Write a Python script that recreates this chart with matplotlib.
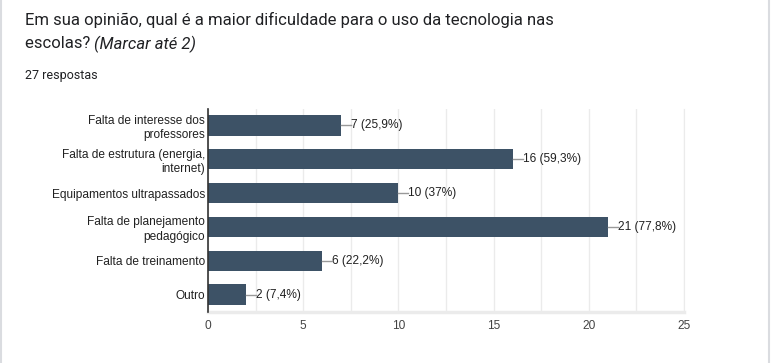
import numpy as np
import matplotlib
matplotlib.use("Agg")
import matplotlib.pyplot as plt
from matplotlib.lines import Line2D

# --- Data ---
categories = [
    "Falta de interesse dos\nprofessores",
    "Falta de estrutura (energia,\ninternet)",
    "Equipamentos ultrapassados",
    "Falta de planejamento\npedagógico",
    "Falta de treinamento",
    "Outro",
]
counts = [7, 16, 10, 21, 6, 2]
percent_labels = ["25,9%", "59,3%", "37%", "77,8%", "22,2%", "7,4%"]
x_ticks = [0, 5, 10, 15, 20, 25]

BAR_COLOR = "#3d5266"
TEXT_COLOR = "#212121"

fig = plt.figure(figsize=(7.71, 3.63), dpi=100)
ax = fig.add_axes([208 / 771, 1 - 311.5 / 363, 476 / 771, 203 / 363])

y = np.arange(len(categories))
ax.barh(y, counts, height=0.6, color=BAR_COLOR, zorder=3)

ax.set_ylim(len(categories) - 0.5, -0.5)
ax.set_xlim(0, 25)
ax.set_yticks(y)
ax.set_yticklabels(categories, fontsize=8.6, color=TEXT_COLOR,
                   family="Liberation Sans", linespacing=1.25)
ax.set_xticks(x_ticks)
ax.set_xticklabels([str(t) for t in x_ticks], fontsize=8.6, color="#444444",
                   family="Liberation Sans")
ax.set_xticks(np.arange(2.5, 25, 5), minor=True)
ax.tick_params(axis="both", which="both", length=0)
ax.tick_params(axis="y", pad=2)
ax.tick_params(axis="x", pad=6)

ax.grid(True, axis="x", which="both", color="#ebebeb", linewidth=1, zorder=0)

for s in ["top"]:
    ax.spines[s].set_visible(False)
ax.spines["right"].set_color("#ebebeb")
ax.spines["bottom"].set_color("#ebebeb")
ax.spines["bottom"].set_linewidth(2.5)
ax.spines["left"].set_color("#333333")
ax.spines["left"].set_linewidth(1.2)
ax.spines["left"].set_zorder(4)

# value labels with short leader line
lead = 10 / 19.04
for yi, c, p in zip(y, counts, percent_labels):
    ax.plot([c, c + lead], [yi, yi], color="#999999", linewidth=1, zorder=4,
            clip_on=False)
    ax.text(c + lead, yi, f"{c} ({p})", va="center", ha="left", fontsize=8.6,
            color=TEXT_COLOR, family="Liberation Sans")

# title and subtitle
fig.text(25 / 771, 1 - 20 / 363, "Em sua opinião, qual é a maior dificuldade para o uso da tecnologia nas",
         fontsize=12, family="Roboto", color="#202124", va="center")
t2 = fig.text(25 / 771, 1 - 44 / 363, "escolas? ", fontsize=12, family="Roboto",
              color="#202124", va="center")
fig.canvas.draw()
bb = t2.get_window_extent()
fig.text(bb.x1 / fig.bbox.width, 1 - 44 / 363, "(Marcar até 2)", fontsize=12,
         family="Roboto", style="italic", color="#202124", va="center")
fig.text(25 / 771, 1 - 75 / 363, "27 respostas", fontsize=9, family="Roboto",
         color="#202124", va="center")

# card borders
fig.add_artist(Line2D([0.5 / 771, 0.5 / 771], [0, 1], color="#dadce0", linewidth=1.5))
fig.add_artist(Line2D([768.5 / 771, 768.5 / 771], [0, 1], color="#dadce0", linewidth=1.5))

fig.savefig("out.png", dpi=100)
